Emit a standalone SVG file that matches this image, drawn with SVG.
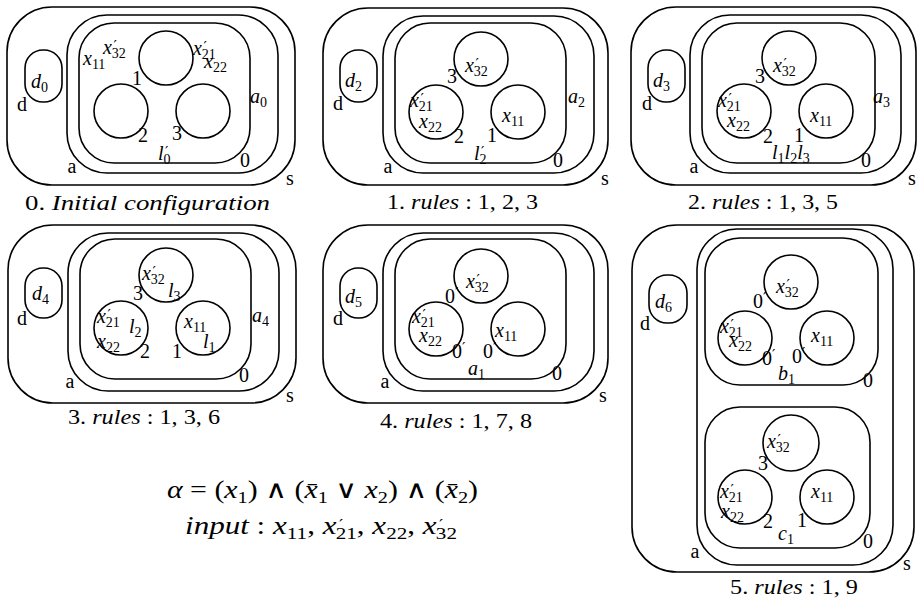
<svg xmlns="http://www.w3.org/2000/svg" width="918" height="612" viewBox="0 0 918 612">
<style>
.ln{fill:none;stroke:#000;stroke-width:1.6}
.t{font-family:"Liberation Serif","DejaVu Serif",serif;font-size:20px;fill:#000}
.i{font-style:italic}
.u{font-style:normal}
.sb{font-size:14px}
.pr{font-family:"DejaVu Serif",serif;font-size:15px;font-style:normal}
.c{text-anchor:middle}
.cap{font-family:"Liberation Serif","DejaVu Serif",serif;font-size:21px;fill:#000}
.fm{font-family:"Liberation Serif","DejaVu Serif",serif;font-size:25px;fill:#000}
</style>
<rect width="918" height="612" fill="#fff"/>

<!-- Panel 0 -->
<g id="p0" transform="translate(7,7)">
<rect class="ln" x="0" y="0" width="288" height="178" rx="45"/>
<rect class="ln" x="60" y="8" width="211" height="158" rx="40"/>
<rect class="ln" x="72" y="16" width="171" height="140" rx="35"/>
<rect class="ln" x="18" y="43" width="37" height="52" rx="18"/>
<circle class="ln" cx="159" cy="51" r="27"/>
<circle class="ln" cx="114" cy="104" r="27"/>
<circle class="ln" cx="196" cy="104" r="27"/>
<text class="t i" x="24" y="81">d<tspan class="sb u" dy="4">0</tspan></text>
<text class="t c" x="15" y="104">d</text>
<text class="t i" x="76" y="58">x<tspan class="sb u" dy="4">11</tspan></text>
<text class="t i" x="96" y="47">x<tspan class="pr" dx="1.5" dy="-3">′</tspan><tspan class="sb u" dx="-5" dy="7">32</tspan></text>
<text class="t i" x="186" y="48">x<tspan class="pr" dx="1.5" dy="-3">′</tspan><tspan class="sb u" dx="-5" dy="7">21</tspan></text>
<text class="t i" x="197" y="61">x<tspan class="sb u" dy="4">22</tspan></text>
<text class="t c" x="130" y="78">1</text>
<text class="t c" x="136" y="135">2</text>
<text class="t c" x="170" y="133">3</text>
<text class="t i" x="151" y="153">l<tspan class="pr" dx="1.5" dy="-3">′</tspan><tspan class="sb u" dx="-5" dy="7">0</tspan></text>
<text class="t c" x="238" y="160">0</text>
<text class="t i" x="243" y="96">a<tspan class="sb u" dy="4">0</tspan></text>
<text class="t c" x="65" y="166">a</text>
<text class="t c" x="283" y="178">s</text>
</g>

<!-- Panel 1 -->
<g id="p1" transform="translate(323,8)">
<rect class="ln" x="0" y="0" width="285" height="177" rx="45"/>
<rect class="ln" x="60" y="8" width="211" height="157" rx="40"/>
<rect class="ln" x="72" y="15" width="171" height="140" rx="35"/>
<rect class="ln" x="17" y="42" width="37" height="52" rx="18"/>
<circle class="ln" cx="158" cy="51" r="27"/>
<circle class="ln" cx="113" cy="104" r="27"/>
<circle class="ln" cx="195" cy="104" r="27"/>
<text class="t i" x="22" y="79">d<tspan class="sb u" dy="4">2</tspan></text>
<text class="t c" x="15" y="102">d</text>
<text class="t i" x="142" y="64">x<tspan class="pr" dx="1.5" dy="-3">′</tspan><tspan class="sb u" dx="-5" dy="7">32</tspan></text>
<text class="t c" x="129" y="75">3</text>
<text class="t i" x="87" y="99">x<tspan class="pr" dx="1.5" dy="-3">′</tspan><tspan class="sb u" dx="-5" dy="7">21</tspan></text>
<text class="t i" x="96" y="120">x<tspan class="sb u" dy="4">22</tspan></text>
<text class="t i" x="179" y="114">x<tspan class="sb u" dy="4">11</tspan></text>
<text class="t c" x="136" y="135">2</text>
<text class="t c" x="169" y="134">1</text>
<text class="t i" x="151" y="152">l<tspan class="pr" dx="1.5" dy="-3">′</tspan><tspan class="sb u" dx="-5" dy="7">2</tspan></text>
<text class="t c" x="235" y="159">0</text>
<text class="t i" x="245" y="95">a<tspan class="sb u" dy="4">2</tspan></text>
<text class="t c" x="65" y="165">a</text>
<text class="t c" x="282" y="177">s</text>
</g>

<!-- Panel 2 -->
<g id="p2" transform="translate(631,7)">
<rect class="ln" x="0" y="0" width="285" height="178" rx="45"/>
<rect class="ln" x="59" y="8" width="211" height="158" rx="40"/>
<rect class="ln" x="71" y="16" width="173" height="140" rx="35"/>
<rect class="ln" x="17" y="43" width="37" height="52" rx="18"/>
<circle class="ln" cx="158" cy="51" r="27"/>
<circle class="ln" cx="113" cy="104" r="27"/>
<circle class="ln" cx="195" cy="104" r="27"/>
<text class="t i" x="22" y="80">d<tspan class="sb u" dy="4">3</tspan></text>
<text class="t c" x="16" y="103">d</text>
<text class="t i" x="142" y="65">x<tspan class="pr" dx="1.5" dy="-3">′</tspan><tspan class="sb u" dx="-5" dy="7">32</tspan></text>
<text class="t c" x="129" y="76">3</text>
<text class="t i" x="87" y="100">x<tspan class="pr" dx="1.5" dy="-3">′</tspan><tspan class="sb u" dx="-5" dy="7">21</tspan></text>
<text class="t i" x="96" y="120">x<tspan class="sb u" dy="4">22</tspan></text>
<text class="t i" x="179" y="115">x<tspan class="sb u" dy="4">11</tspan></text>
<text class="t c" x="137" y="136">2</text>
<text class="t c" x="168" y="135">1</text>
<text class="t i" x="141" y="152">l<tspan class="sb u" dy="4">1</tspan><tspan dy="-4">l</tspan><tspan class="sb u" dy="4">2</tspan><tspan dy="-4">l</tspan><tspan class="sb u" dy="4">3</tspan></text>
<text class="t c" x="235" y="160">0</text>
<text class="t i" x="242" y="96">a<tspan class="sb u" dy="4">3</tspan></text>
<text class="t c" x="63" y="166">a</text>
<text class="t c" x="281" y="178">s</text>
</g>

<!-- Panel 3 -->
<g id="p3" transform="translate(8,225)">
<rect class="ln" x="0" y="0" width="288" height="178" rx="45"/>
<rect class="ln" x="60" y="8" width="211" height="158" rx="40"/>
<rect class="ln" x="72" y="14" width="171" height="140" rx="35"/>
<rect class="ln" x="17" y="43" width="37" height="50" rx="18"/>
<circle class="ln" cx="158" cy="50" r="27"/>
<circle class="ln" cx="113" cy="103" r="27"/>
<circle class="ln" cx="195" cy="103" r="27"/>
<text class="t i" x="24" y="75">d<tspan class="sb u" dy="4">4</tspan></text>
<text class="t c" x="14" y="100">d</text>
<text class="t i" x="134" y="55">x<tspan class="pr" dx="1.5" dy="-3">′</tspan><tspan class="sb u" dx="-5" dy="7">32</tspan></text>
<text class="t i" x="160" y="72">l<tspan class="sb u" dy="4">3</tspan></text>
<text class="t c" x="130" y="75">3</text>
<text class="t i" x="89" y="98">x<tspan class="pr" dx="1.5" dy="-3">′</tspan><tspan class="sb u" dx="-5" dy="7">21</tspan></text>
<text class="t i" x="121" y="108">l<tspan class="sb u" dy="4">2</tspan></text>
<text class="t i" x="89" y="123">x<tspan class="sb u" dy="4">22</tspan></text>
<text class="t c" x="137" y="133">2</text>
<text class="t c" x="169" y="133">1</text>
<text class="t i" x="176" y="103">x<tspan class="sb u" dy="4">11</tspan></text>
<text class="t i" x="195" y="123">l<tspan class="sb u" dy="4">1</tspan></text>
<text class="t i" x="244" y="97">a<tspan class="sb u" dy="4">4</tspan></text>
<text class="t c" x="236" y="157">0</text>
<text class="t c" x="62" y="163">a</text>
<text class="t c" x="282" y="177">s</text>
</g>

<!-- Panel 4 -->
<g id="p4" transform="translate(323,225)">
<rect class="ln" x="0" y="0" width="285" height="178" rx="45"/>
<rect class="ln" x="60" y="8" width="211" height="158" rx="40"/>
<rect class="ln" x="72" y="14" width="171" height="140" rx="35"/>
<rect class="ln" x="17" y="43" width="37" height="50" rx="18"/>
<circle class="ln" cx="158" cy="51" r="27"/>
<circle class="ln" cx="113" cy="104" r="27"/>
<circle class="ln" cx="195" cy="104" r="27"/>
<text class="t i" x="22" y="78">d<tspan class="sb u" dy="4">5</tspan></text>
<text class="t c" x="15" y="100">d</text>
<text class="t i" x="143" y="63">x<tspan class="pr" dx="1.5" dy="-3">′</tspan><tspan class="sb u" dx="-5" dy="7">32</tspan></text>
<text class="t" x="122" y="78">0<tspan class="pr" dy="-5">′</tspan></text>
<text class="t i" x="89" y="98">x<tspan class="pr" dx="1.5" dy="-3">′</tspan><tspan class="sb u" dx="-5" dy="7">21</tspan></text>
<text class="t i" x="96" y="117">x<tspan class="sb u" dy="4">22</tspan></text>
<text class="t i" x="172" y="112">x<tspan class="sb u" dy="4">11</tspan></text>
<text class="t" x="129" y="133">0<tspan class="pr" dy="-5">′</tspan></text>
<text class="t" x="160" y="133">0<tspan class="pr" dy="-5">′</tspan></text>
<text class="t i" x="145" y="150">a<tspan class="sb u" dy="4">1</tspan></text>
<text class="t c" x="234" y="155">0</text>
<text class="t c" x="62" y="163">a</text>
<text class="t c" x="280" y="177">s</text>
</g>

<!-- Panel 5 -->
<g id="p5">
<rect class="ln" x="632" y="225" width="282" height="347" rx="45"/>
<rect class="ln" x="697" y="229" width="196" height="336" rx="40"/>
<rect class="ln" x="705" y="238" width="173" height="147" rx="35"/>
<rect class="ln" x="705" y="407" width="165" height="141" rx="35"/>
<rect class="ln" x="649" y="275" width="38" height="48" rx="18"/>
<circle class="ln" cx="791" cy="282" r="27"/>
<circle class="ln" cx="745" cy="338" r="27"/>
<circle class="ln" cx="827" cy="338" r="27"/>
<circle class="ln" cx="791" cy="443" r="28"/>
<circle class="ln" cx="745" cy="497" r="27"/>
<circle class="ln" cx="827" cy="497" r="27"/>
<text class="t i" x="655" y="308">d<tspan class="sb u" dy="4">6</tspan></text>
<text class="t c" x="645" y="330">d</text>
<text class="t i" x="776" y="293">x<tspan class="pr" dx="1.5" dy="-3">′</tspan><tspan class="sb u" dx="-5" dy="7">32</tspan></text>
<text class="t" x="753" y="308">0<tspan class="pr" dy="-5">′</tspan></text>
<text class="t i" x="720" y="333">x<tspan class="pr" dx="1.5" dy="-3">′</tspan><tspan class="sb u" dx="-5" dy="7">21</tspan></text>
<text class="t i" x="729" y="347">x<tspan class="sb u" dy="4">22</tspan></text>
<text class="t i" x="811" y="342">x<tspan class="sb u" dy="4">11</tspan></text>
<text class="t" x="762" y="365">0<tspan class="pr" dy="-5">′</tspan></text>
<text class="t" x="792" y="363">0<tspan class="pr" dy="-5">′</tspan></text>
<text class="t i" x="778" y="380">b<tspan class="sb u" dy="4">1</tspan></text>
<text class="t c" x="868" y="387">0</text>
<text class="t i" x="767" y="448">x<tspan class="pr" dx="1.5" dy="-3">′</tspan><tspan class="sb u" dx="-5" dy="7">32</tspan></text>
<text class="t c" x="763" y="470">3</text>
<text class="t i" x="720" y="498">x<tspan class="pr" dx="1.5" dy="-3">′</tspan><tspan class="sb u" dx="-5" dy="7">21</tspan></text>
<text class="t i" x="721" y="518">x<tspan class="sb u" dy="4">22</tspan></text>
<text class="t i" x="811" y="498">x<tspan class="sb u" dy="4">11</tspan></text>
<text class="t c" x="768" y="528">2</text>
<text class="t c" x="802" y="527">1</text>
<text class="t i" x="778" y="540">c<tspan class="sb u" dy="4">1</tspan></text>
<text class="t c" x="868" y="548">0</text>
<text class="t c" x="695" y="558">a</text>
<text class="t c" x="907" y="570">s</text>
</g>

<!-- Captions -->
<g id="captions">
<text class="cap" x="25" y="210" textLength="245" lengthAdjust="spacingAndGlyphs">0. <tspan class="i">Initial configuration</tspan></text>
<text class="cap" x="387" y="209" textLength="151" lengthAdjust="spacingAndGlyphs">1. <tspan class="i">rules</tspan> : 1, 2, 3</text>
<text class="cap" x="688" y="209" textLength="150" lengthAdjust="spacingAndGlyphs">2. <tspan class="i">rules</tspan> : 1, 3, 5</text>
<text class="cap" x="68" y="424" textLength="152" lengthAdjust="spacingAndGlyphs">3. <tspan class="i">rules</tspan> : 1, 3, 6</text>
<text class="cap" x="380" y="428" textLength="152" lengthAdjust="spacingAndGlyphs">4. <tspan class="i">rules</tspan> : 1, 7, 8</text>
<text class="cap" x="730" y="594" textLength="128" lengthAdjust="spacingAndGlyphs">5. <tspan class="i">rules</tspan> : 1, 9</text>
</g>

<!-- Formula -->
<g id="formula">
<text class="fm" x="167" y="498" textLength="311" lengthAdjust="spacingAndGlyphs"><tspan class="i">α</tspan> = (<tspan class="i">x</tspan><tspan font-size="17" dy="5">1</tspan><tspan dy="-5">) ∧ (</tspan><tspan class="i">x̄</tspan><tspan font-size="17" dy="5">1</tspan><tspan dy="-5"> ∨ </tspan><tspan class="i">x</tspan><tspan font-size="17" dy="5">2</tspan><tspan dy="-5">) ∧ (</tspan><tspan class="i">x̄</tspan><tspan font-size="17" dy="5">2</tspan><tspan dy="-5">)</tspan></text>
<text class="fm" x="185" y="534" textLength="272" lengthAdjust="spacingAndGlyphs"><tspan class="i">input</tspan> : <tspan class="i">x</tspan><tspan font-size="17" dy="5">11</tspan><tspan dy="-5">, </tspan><tspan class="i">x</tspan><tspan class="pr" font-size="17" dx="2" dy="-4">′</tspan><tspan font-size="17" dx="-6" dy="9">21</tspan><tspan dy="-5">, </tspan><tspan class="i">x</tspan><tspan font-size="17" dy="5">22</tspan><tspan dy="-5">, </tspan><tspan class="i">x</tspan><tspan class="pr" font-size="17" dx="2" dy="-4">′</tspan><tspan font-size="17" dx="-6" dy="9">32</tspan></text>
</g>
</svg>
